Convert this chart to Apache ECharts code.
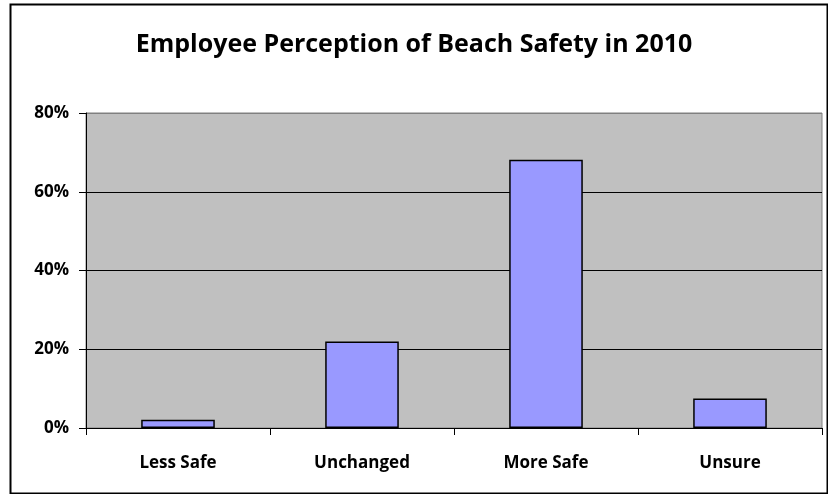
<!DOCTYPE html>
<html>
<head>
<meta charset="utf-8">
<script src="https://cdn.jsdelivr.net/npm/echarts@6/dist/echarts.min.js"></script>
<style>
  html, body { margin: 0; padding: 0; background: #fff; }
  #chart { width: 828px; height: 494px; }
</style>
</head>
<body>
<div id="chart"></div>
<script>
const categories = ["Less Safe", "Unchanged", "More Safe", "Unsure"];
const percentValues = [2.1, 22, 68.1, 7.5];
const yTicks = [0, 20, 40, 60, 80];

const chart = echarts.init(document.getElementById("chart"));
const font = "'Open Sans', Lato, sans-serif";

const option = {
  animation: false,
  backgroundColor: "#fff",
  title: {
    text: "Employee Perception of Beach Safety in 2010",
    left: "center",
    top: 27,
    textStyle: { fontFamily: font, fontSize: 25, fontWeight: "bold", color: "#000" }
  },
  graphic: [{
    type: "rect",
    left: 8, top: 2,
    shape: { width: 817, height: 489 },
    style: { fill: "none", stroke: "#000", lineWidth: 2 },
    silent: true
  }],
  grid: {
    left: 86, right: 6, top: 113, bottom: 66,
    show: true,
    backgroundColor: "#c0c0c0",
    borderColor: "#808080",
    borderWidth: 1
  },
  xAxis: {
    type: "category",
    data: categories,
    axisLine: { lineStyle: { color: "#000", width: 1 } },
    axisTick: { show: true, length: 7, lineStyle: { color: "#000" } },
    axisLabel: { fontFamily: font, fontSize: 17, fontWeight: "bold", color: "#000", margin: 27 }
  },
  yAxis: {
    type: "value",
    min: yTicks[0],
    max: yTicks[yTicks.length - 1],
    interval: 20,
    axisLine: { show: true, lineStyle: { color: "#000", width: 1 } },
    axisTick: { show: true, length: 7, lineStyle: { color: "#000" } },
    axisLabel: { fontFamily: font, fontSize: 17, fontWeight: "bold", color: "#000", margin: 17, formatter: "{value}%" },
    splitLine: { show: true, lineStyle: { color: ["#000", "#000", "#000", "#000", "#808080"], width: 1 } }
  },
  series: [{
    type: "bar",
    data: percentValues,
    barWidth: "40%",
    itemStyle: { color: "#9999ff", borderColor: "#000", borderWidth: 1.5 }
  }]
};

chart.setOption(option);
</script>
</body>
</html>
